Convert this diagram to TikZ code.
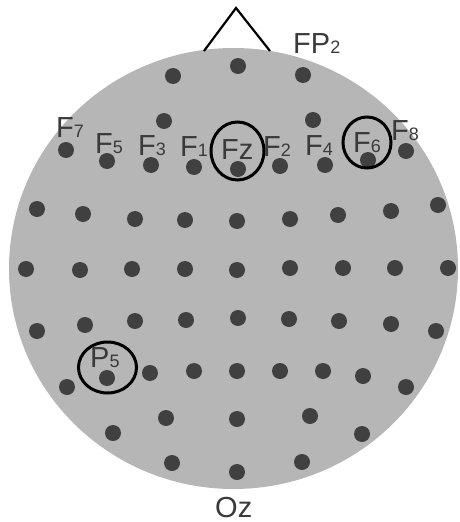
\documentclass[tikz,border=0pt]{standalone}
\usepackage{fontspec}
\setmainfont{Liberation Sans}
\usetikzlibrary{positioning}
\usetikzlibrary{shapes.geometric}
\definecolor{scalp}{RGB}{182,182,182}
\definecolor{dotgray}{RGB}{64,64,64}
\definecolor{lblgray}{RGB}{58,58,58}
\newcommand{\sidx}[1]{{\fontsize{18}{18}\selectfont #1}}

\begin{document}
\begin{tikzpicture}[x=1pt,y=-1pt,
        electrode/.style={circle,fill=dotgray,inner sep=0pt,minimum size=16pt},
        elabel/.style={anchor=base west,inner sep=0pt,text=lblgray,font=\fontsize{29}{29}\selectfont},
        pick/.style={ellipse,draw=black,line width=3pt,inner sep=0pt}]
        \useasboundingbox (0,0) rectangle (459,522);
        % head %
        \node[ellipse, fill=scalp, inner sep=0pt, minimum width=449pt, minimum height=441pt] (head) at (233.5,268.5) {};
        \coordinate (noseL) at (204,51);
        \coordinate (nosetip) at (236,8);
        \coordinate (noseR) at (270,51);
        % electrodes %
        \foreach \x/\y [count=\i] in {173/76,238/66,303/75}
                \node[electrode] (fp\i) at (\x,\y) {};
        \foreach \x/\y [count=\i] in {164/121,313/120}
                \node[electrode] (af\i) at (\x,\y) {};
        \foreach \x/\y [count=\i] in {66/150,107/161,151/165,194/167,238/169,280/166,325/165,368/160,406/151}
                \node[electrode] (f\i) at (\x,\y) {};
        \foreach \x/\y [count=\i] in {37/209,83/214,135/219,185/220,237/221,290/219,338/215,391/211,438/205}
                \node[electrode] (fc\i) at (\x,\y) {};
        \foreach \x/\y [count=\i] in {26/269,80/270,132/269,185/269,237/270,290/268,343/268,395/268,448/268}
                \node[electrode] (c\i) at (\x,\y) {};
        \foreach \x/\y [count=\i] in {37/331,85/325,135/321,186/320,238/318,289/319,339/321,391/324,436/331}
                \node[electrode] (cp\i) at (\x,\y) {};
        \foreach \x/\y [count=\i] in {67/387,107/378,150/373,194/371,237/371,280/371,323/371,363/376,406/387}
                \node[electrode] (p\i) at (\x,\y) {};
        \foreach \x/\y [count=\i] in {113/433,166/418,237/419,310/416,362/434}
                \node[electrode] (po\i) at (\x,\y) {};
        \foreach \x/\y [count=\i] in {172/463,237/472,302/462}
                \node[electrode] (o\i) at (\x,\y) {};
        % labels %
        \node[elabel] (lFP2) at (293,53) {FP\sidx{2}};
        \node[elabel] (lF7) at (56,137) {F\sidx{7}};
        \node[elabel] (lF5) at (95,153) {F\sidx{5}};
        \node[elabel] (lF3) at (138,155) {F\sidx{3}};
        \node[elabel] (lF1) at (180,156) {F\sidx{1}};
        \node[elabel] (lFz) at (221,159) {Fz};
        \node[elabel] (lF2) at (263,156) {F\sidx{2}};
        \node[elabel] (lF4) at (305,155) {F\sidx{4}};
        \node[elabel] (lF6) at (353,152) {F\sidx{6}};
        \node[elabel] (lF8) at (391,140) {F\sidx{8}};
        \node[elabel] (lP5) at (90,367) {P\sidx{5}};
        \node[elabel] (lOz) at (215,517) {Oz};
        % selected %
        \node[pick, minimum width=53pt, minimum height=58pt] (selFz) at (237.5,151) {};
        \node[pick, minimum width=48pt, minimum height=51pt] (selF6) at (367,142.5) {};
        \node[pick, minimum width=58pt, minimum height=51pt] (selP5) at (107.5,367.5) {};
        % nose %
        \draw[line width=2.2pt] (noseL) -- (nosetip) -- (noseR);
\end{tikzpicture}
\end{document}
